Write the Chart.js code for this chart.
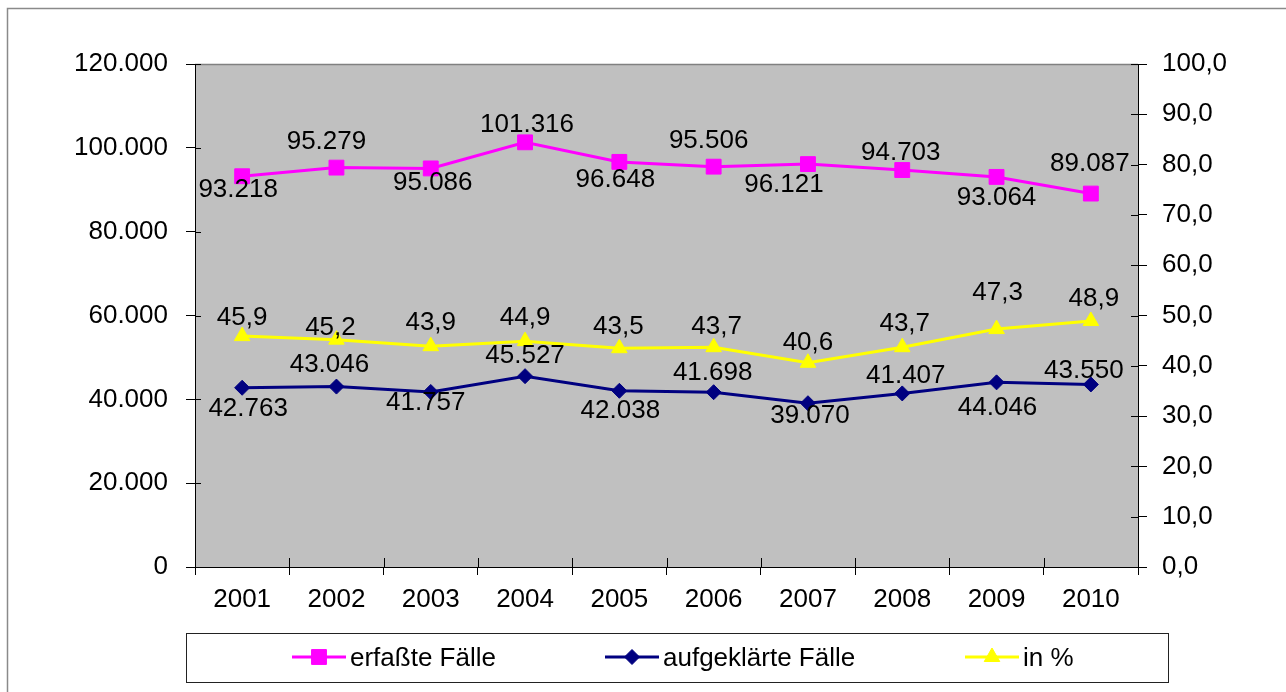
<!DOCTYPE html>
<html><head><meta charset="utf-8">
<script src="https://cdn.jsdelivr.net/npm/chart.js@4.4.0/dist/chart.umd.min.js"></script>
<style>
html,body{margin:0;padding:0;background:#fff;overflow:hidden}
canvas{display:block}
</style></head><body>
<canvas id="c" width="1286" height="692"></canvas>
<script>
// ---- data ----
const years = ['2001','2002','2003','2004','2005','2006','2007','2008','2009','2010'];
const erfassteFaelle = [93218, 95279, 95086, 101316, 96648, 95506, 96121, 94703, 93064, 89087];
const aufgeklaerteFaelle = [42763, 43046, 41757, 45527, 42038, 41698, 39070, 41407, 44046, 43550];
const quoteProzent = [45.9, 45.2, 43.9, 44.9, 43.5, 43.7, 40.6, 43.7, 47.3, 48.9];
const seriesNames = ['erfaßte Fälle', 'aufgeklärte Fälle', 'in %'];
const leftAxis = {min: 0, max: 120000, step: 20000};
const rightAxis = {min: 0, max: 100, step: 10};

// ---- label placement (pixel offsets of text baseline from the point) ----
const labelOffsets = [
  [[-4,20.5],[-10,-18.7],[2,22],[2,-10],[-4,25],[-5,-18.5],[-24,27.5],[-1.5,-10],[0,28],[-1,-23]],
  [[6,28],[-7,-15],[-5,18.5],[0,-13],[1,27],[-1,-12.5],[2,20],[3.5,-10.5],[1,33],[-7,-6.5]],
  [[0,-11.4],[-6,-5],[0,-16],[0,-16.5],[-1,-14],[3,-13],[0,-13],[2.5,-16],[1,-29],[3,-14.6]]
];

const FONT_FAMILY = '"Liberation Sans", Arial, sans-serif';
const FONT_SIZE = 26;

function fmtThousands(v) {
  const s = Math.round(v).toString();
  return s.replace(/\B(?=(\d{3})+(?!\d))/g, '.');
}
function fmtDecimal(v) {
  return v.toFixed(1).replace('.', ',');
}
const formatters = [fmtThousands, fmtThousands, fmtDecimal];

function drawMarker(ctx, style, r, x, y) {
  ctx.beginPath();
  if (style === 'rect') {
    const s = Math.SQRT1_2 * r;
    ctx.rect(x - s, y - s, 2 * s, 2 * s);
  } else if (style === 'rectRot') {
    ctx.moveTo(x - r, y); ctx.lineTo(x, y - r); ctx.lineTo(x + r, y); ctx.lineTo(x, y + r);
    ctx.closePath();
  } else if (style === 'triangle') {
    ctx.moveTo(x, y - r);
    ctx.lineTo(x + Math.sin(2 * Math.PI / 3) * r, y - Math.cos(2 * Math.PI / 3) * r);
    ctx.lineTo(x + Math.sin(4 * Math.PI / 3) * r, y - Math.cos(4 * Math.PI / 3) * r);
    ctx.closePath();
  }
  ctx.fill();
  ctx.stroke();
}

const backgroundPlugin = {
  id: 'bg',
  beforeDraw(chart) {
    const ctx = chart.ctx, a = chart.chartArea;
    ctx.save();
    ctx.fillStyle = '#ffffff';
    ctx.fillRect(0, 0, chart.width, chart.height);
    // outer frame
    ctx.strokeStyle = '#8a8a8a';
    ctx.lineWidth = 1.5;
    ctx.beginPath();
    ctx.moveTo(7.5, chart.height); ctx.lineTo(7.5, 8.5); ctx.lineTo(chart.width, 8.5);
    ctx.stroke();
    // plot area
    ctx.fillStyle = '#C0C0C0';
    ctx.fillRect(a.left, a.top, a.right - a.left, a.bottom - a.top);
    ctx.strokeStyle = '#808080';
    ctx.lineWidth = 1.5;
    ctx.beginPath();
    ctx.moveTo(a.left, a.top + 0.5); ctx.lineTo(a.right, a.top + 0.5);
    ctx.stroke();
    ctx.restore();
  },
  beforeDatasetsDraw(chart) {
    // inward halves of the crossing tick marks
    const ctx = chart.ctx, a = chart.chartArea;
    const y = chart.scales.y, y1 = chart.scales.y1, x = chart.scales.x;
    ctx.save();
    ctx.strokeStyle = '#000';
    ctx.lineWidth = 1;
    ctx.beginPath();
    y.ticks.forEach((t, i) => {
      const py = Math.round(y.getPixelForTick(i)) + 0.5;
      ctx.moveTo(a.left, py); ctx.lineTo(a.left + 6, py);
    });
    y1.ticks.forEach((t, i) => {
      const py = Math.round(y1.getPixelForTick(i)) + 0.5;
      ctx.moveTo(a.right - 7, py); ctx.lineTo(a.right, py);
    });
    const n = x.ticks.length;
    for (let i = 0; i <= n; i++) {
      let px;
      if (i === 0) px = a.left;
      else if (i === n) px = a.right;
      else px = (x.getPixelForTick(i - 1) + x.getPixelForTick(i)) / 2;
      px = Math.round(px) + 0.5;
      ctx.moveTo(px, a.bottom - 9); ctx.lineTo(px, a.bottom);
    }
    ctx.stroke();
    ctx.restore();
  }
};

const labelPlugin = {
  id: 'valueLabels',
  afterDatasetsDraw(chart) {
    const ctx = chart.ctx;
    ctx.save();
    ctx.font = FONT_SIZE + 'px ' + FONT_FAMILY;
    ctx.fillStyle = '#000';
    ctx.textAlign = 'center';
    ctx.textBaseline = 'alphabetic';
    chart.data.datasets.forEach((ds, di) => {
      const meta = chart.getDatasetMeta(di);
      meta.data.forEach((pt, j) => {
        const off = labelOffsets[di][j];
        ctx.fillText(formatters[di](ds.data[j]), pt.x + off[0], pt.y + off[1]);
      });
    });
    ctx.restore();
  }
};

const legendBox = {left: 186.5, top: 633.5, right: 1168.5, bottom: 682.5};
const legendItemX = [292, 605, 965];
const legendPlugin = {
  id: 'boxLegend',
  afterDraw(chart) {
    const ctx = chart.ctx;
    ctx.save();
    ctx.strokeStyle = '#222';
    ctx.lineWidth = 1;
    ctx.strokeRect(legendBox.left, legendBox.top, legendBox.right - legendBox.left, legendBox.bottom - legendBox.top);
    const ly = 657;
    chart.data.datasets.forEach((ds, i) => {
      const x0 = legendItemX[i];
      ctx.strokeStyle = ds.borderColor;
      ctx.lineWidth = ds.borderWidth;
      ctx.beginPath();
      ctx.moveTo(x0, ly); ctx.lineTo(x0 + 54, ly);
      ctx.stroke();
      ctx.fillStyle = ds.backgroundColor;
      ctx.strokeStyle = ds.borderColor;
      ctx.lineWidth = 1;
      drawMarker(ctx, ds.pointStyle, ds.pointRadius, x0 + 27, ly);
      ctx.fillStyle = '#000';
      ctx.font = FONT_SIZE + 'px ' + FONT_FAMILY;
      ctx.textAlign = 'left';
      ctx.textBaseline = 'alphabetic';
      ctx.fillText(ds.label, x0 + 58, 666);
    });
    ctx.restore();
  }
};

const tickFont = {family: FONT_FAMILY, size: FONT_SIZE};
const CHART_TOP = 64, CHART_BOTTOM = 567, CHART_LEFT = 195, CHART_RIGHT = 1138;

new Chart(document.getElementById('c'), {
  type: 'line',
  data: {
    labels: years,
    datasets: [
      {label: seriesNames[0], data: erfassteFaelle, yAxisID: 'y',
       borderColor: '#FF00FF', backgroundColor: '#FF00FF', borderWidth: 3,
       pointStyle: 'rect', pointRadius: 10.5, pointBorderWidth: 1, tension: 0, fill: false},
      {label: seriesNames[1], data: aufgeklaerteFaelle, yAxisID: 'y',
       borderColor: '#000080', backgroundColor: '#000080', borderWidth: 3,
       pointStyle: 'rectRot', pointRadius: 7.5, pointBorderWidth: 1, tension: 0, fill: false},
      {label: seriesNames[2], data: quoteProzent, yAxisID: 'y1',
       borderColor: '#FFFF00', backgroundColor: '#FFFF00', borderWidth: 3,
       pointStyle: 'triangle', pointRadius: 9, pointBorderWidth: 1, tension: 0, fill: false}
    ]
  },
  options: {
    responsive: false,
    animation: false,
    events: [],
    layout: {padding: {top: CHART_TOP, left: 0, right: 0, bottom: 0}},
    plugins: {legend: {display: false}, tooltip: {enabled: false}, title: {display: false}},
    scales: {
      x: {
        offset: true,
        grid: {offset: true, drawOnChartArea: false, color: '#000', tickLength: 8, lineWidth: 1},
        border: {color: '#000', width: 1},
        ticks: {font: tickFont, color: '#000', padding: 9, maxRotation: 0, autoSkip: false},
        afterFit(s) { s.height = 692 - CHART_BOTTOM; }
      },
      y: {
        position: 'left', min: leftAxis.min, max: leftAxis.max,
        grid: {drawOnChartArea: false, color: '#000', tickLength: 9},
        border: {color: '#000', width: 1},
        ticks: {stepSize: leftAxis.step, font: tickFont, color: '#000', padding: 18,
                callback: v => fmtThousands(v)},
        afterFit(s) { s.width = CHART_LEFT; }
      },
      y1: {
        position: 'right', min: rightAxis.min, max: rightAxis.max,
        grid: {drawOnChartArea: false, color: '#000', tickLength: 9},
        border: {color: '#000', width: 1},
        ticks: {stepSize: rightAxis.step, font: tickFont, color: '#000', padding: 15,
                callback: v => fmtDecimal(v)},
        afterFit(s) { s.width = 1286 - CHART_RIGHT; }
      }
    }
  },
  plugins: [backgroundPlugin, labelPlugin, legendPlugin]
});
</script>
</body></html>
